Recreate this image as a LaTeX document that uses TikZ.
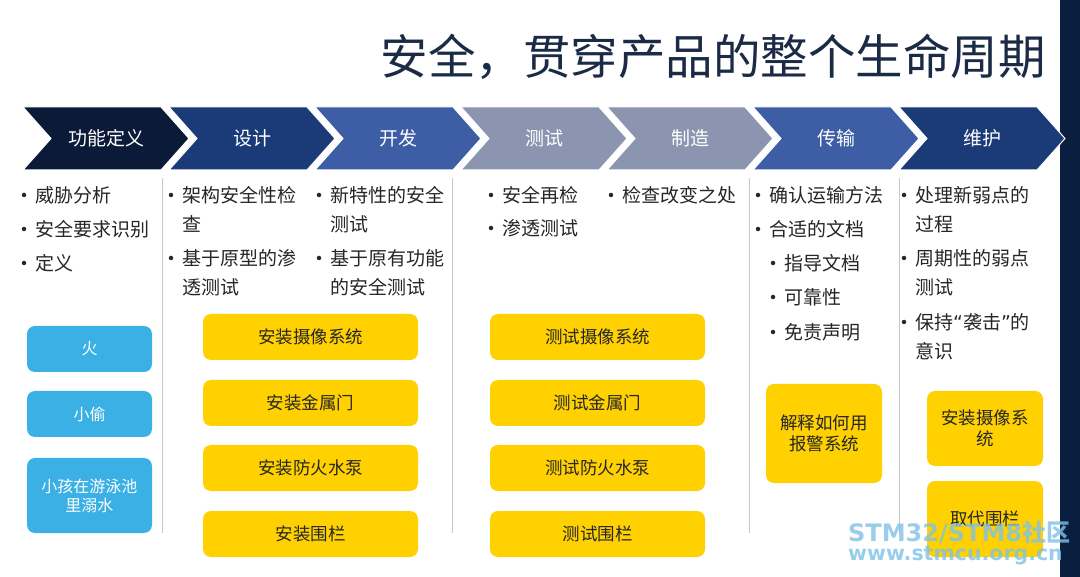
\documentclass[tikz,border=0pt]{standalone}
\usepackage{fontspec}
\setmainfont{Noto Sans CJK SC}
\newfontfamily\markfont{DejaVu Sans}
\usetikzlibrary{positioning,calc}
\definecolor{barnavy}{HTML}{0A1F3F}
\definecolor{titlenavy}{HTML}{1B2A45}
\definecolor{chevA}{HTML}{0B1A38}
\definecolor{chevB}{HTML}{1B3A78}
\definecolor{chevC}{HTML}{3D5DA5}
\definecolor{chevD}{HTML}{8B95AF}
\definecolor{skyblue}{HTML}{3BB0E4}
\definecolor{gold}{HTML}{FFD100}
\definecolor{inktext}{HTML}{262626}
\definecolor{markblue}{HTML}{7FC2E6}

\begin{document}
\begin{tikzpicture}[x=1pt,y=-1pt,
    chev/.style={draw=white,line width=1pt},
    chevlabel/.style={text=white,font=\fontsize{19}{19}\selectfont,inner sep=0pt},
    bullet/.style={circle,fill=inktext,inner sep=0pt,minimum size=4.5pt},
    item/.style={anchor=north west,inner sep=0pt,text=inktext,align=left,font=\fontsize{19}{29}\selectfont},
    sepline/.style={draw=black!22,line width=0.9pt},
    bluebox/.style={rounded corners=8pt,fill=skyblue,text=white,align=center,
      font=\fontsize{16}{19}\selectfont,inner sep=0pt,minimum width=125pt},
    goldbox/.style={rounded corners=8pt,fill=gold,text=inktext,align=center,
      font=\fontsize{17.5}{21}\selectfont,inner sep=0pt},
    widebox/.style={goldbox,minimum width=215pt,minimum height=46pt},
    narrowbox/.style={goldbox,minimum width=116pt}]

  % page and right bar
  \fill[white] (0,0) rectangle (1080,577);
  \useasboundingbox (0,0) rectangle (1080,577);
  \fill[barnavy] (1060,0) rectangle (1080,577);

  \node[anchor=east,text=titlenavy,font=\fontsize{47.5}{47.5}\selectfont,inner sep=0pt]
    (title) at (1046,57) {安全，贯穿产品的整个生命周期};

  % phase chevrons
  \foreach \i/\col/\txt in {0/chevA/功能定义,1/chevB/设计,2/chevC/开发,3/chevD/测试,
                            4/chevD/制造,5/chevC/传输,6/chevB/维护} {
    \pgfmathsetmacro\xa{23+146*\i}
    \path[fill=\col,chev] (\xa,107) -- ++(138,0) -- ++(28,31.5) -- ++(-28,31.5)
      -- ++(-138,0) -- ++(28,-31.5) -- cycle;
    \node[chevlabel] (c\i) at (\xa+83,138.5) {\txt};
  }

  % column separators
  \foreach \sx in {162,452,749,899}
    \draw[sepline] (\sx,178) -- (\sx,533);

  % bullet lists
  \foreach \n/\bx/\by/\txt in {
      a1/35/195/威胁分析, a2/35/229/安全要求识别, a3/35/263/定义,
      b1/182/195/{架构安全性检\\查}, b2/182/258/{基于原型的渗\\透测试},
      c1/330/195/{新特性的安全\\测试}, c2/330/258/{基于原有功能\\的安全测试},
      d1/502/195/安全再检, d2/502/228/渗透测试,
      e1/622/195/检查改变之处,
      f1/769/195/确认运输方法, f2/769/229/合适的文档,
      f3/784/263/指导文档, f4/784/297/可靠性, f5/784/332/免责声明,
      g1/915/195/{处理新弱点的\\过程}, g2/915/258/{周期性的弱点\\测试},
      g3/915/322/{保持{\markfont “}袭击{\markfont ”}的\\意识}} {
    \node[bullet] (dot\n) at (\bx-11,\by) {};
    \node[item] (it\n) at (\bx,\by-9) {\txt};
  }

  % threats
  \node[bluebox,minimum height=46pt] (fire) at (89.5,349) {火};
  \node[bluebox,minimum height=46pt] (thief) at (89.5,414) {小偷};
  \node[bluebox,minimum height=75pt] (pool) at (89.5,495.5) {小孩在游泳池\\里溺水};

  % install / test actions
  \foreach \n/\by/\txt in {1/337/摄像系统,2/403/金属门,3/468/防火水泵,4/534/围栏} {
    \node[widebox] (inst\n) at (310.5,\by) {安装\txt};
    \node[widebox] (test\n) at (597.5,\by) {测试\txt};
  }

  \node[narrowbox,minimum height=99pt] (alarm) at (824,433.5) {解释如何用\\报警系统};
  \node[narrowbox,minimum height=75pt] (camera) at (985,428.5) {安装摄像系\\统};
  \node[narrowbox,minimum height=76pt] (fence) at (985,519) {取代围栏};

  % watermark
  \node[anchor=west,inner sep=0pt,text=markblue,opacity=0.8,font=\fontsize{24}{24}\selectfont\bfseries]
    (mark1) at (848,532) {{\markfont STM32/STM8}社区};
  \node[anchor=west,inner sep=0pt,text=markblue,opacity=0.8,font=\fontsize{20.5}{20.5}\selectfont\bfseries\markfont]
    (mark2) at (848,556) {www.stmcu.org.cn};
\end{tikzpicture}
\end{document}
